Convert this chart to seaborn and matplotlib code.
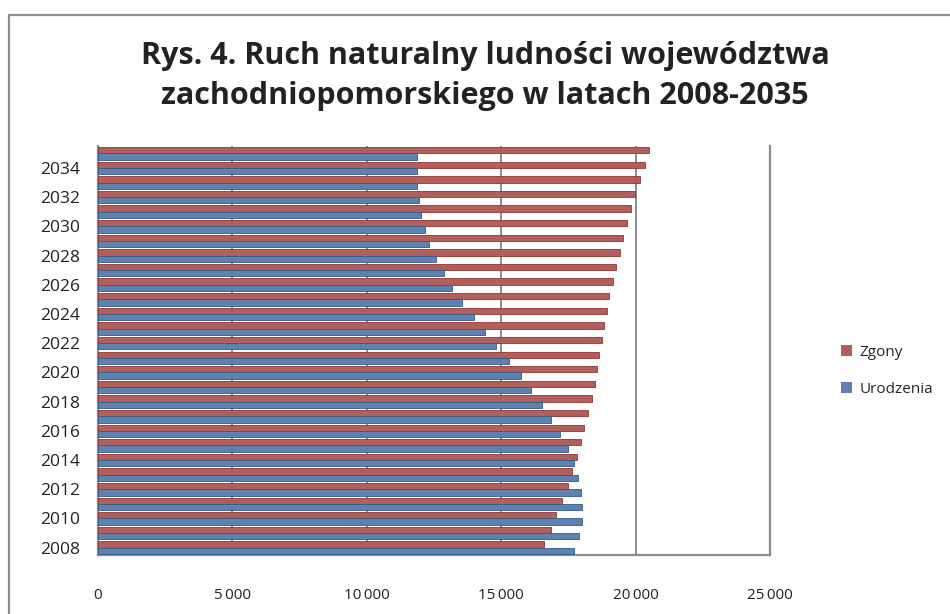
import pandas as pd
import seaborn as sns
import matplotlib.pyplot as plt
import matplotlib.patches as mpatches
from matplotlib.ticker import FuncFormatter

# Data (years 2008-2035)
years = list(range(2008, 2036))
urodzenia = [17720, 17900, 17990, 18020, 17980, 17870, 17690, 17480, 17180, 16870,
             16520, 16120, 15740, 15300, 14820, 14400, 13980, 13550, 13180, 12870,
             12570, 12320, 12150, 12010, 11930, 11880, 11850, 11880]
zgony = [16590, 16840, 17050, 17270, 17470, 17640, 17810, 17970, 18090, 18220,
         18370, 18480, 18580, 18650, 18750, 18840, 18940, 19020, 19150, 19260,
         19410, 19540, 19680, 19840, 19980, 20180, 20340, 20480]
series = ["Zgony", "Urodzenia"]
colors = ["#C0504D", "#4F81BD"]
xticks = [0, 5000, 10000, 15000, 20000, 25000]

df = pd.DataFrame({"rok": years * 2,
                   "seria": ["Urodzenia"] * len(years) + ["Zgony"] * len(years),
                   "liczba": urodzenia + zgony})
df["rok"] = df["rok"].astype(str)
order = [str(y) for y in sorted(years, reverse=True)]

sns.set_style("white")
plt.rcParams["font.family"] = ["Open Sans", "DejaVu Sans"]

fig = plt.figure(figsize=(9.5, 6.14), dpi=100)
ax = fig.add_axes([98 / 950, 1 - 555 / 614, (770 - 98) / 950, (555 - 146) / 614])

sns.barplot(data=df, y="rok", x="liczba", hue="seria", order=order,
            hue_order=series, palette=colors, orient="h", width=0.86,
            ax=ax, legend=True, edgecolor="none", zorder=3)

# darker edge on the bars, a bit like the 3D look
for cont, c in zip(ax.containers, ["#943634", "#2F5D8A"]):
    for bar in cont:
        bar.set_edgecolor(c)
        bar.set_linewidth(0.6)

ax.set_xlim(0, 25000)
ax.set_xticks(xticks)
ax.xaxis.set_major_formatter(FuncFormatter(lambda v, p: f"{int(v):,}".replace(",", "\u2009") if v else "0"))
ax.set_yticks(range(len(order)))
ax.set_yticklabels([y if int(y) % 2 == 0 else "" for y in order])
ax.set_xlabel("")
ax.set_ylabel("")
ax.tick_params(axis="x", length=0, pad=24, labelsize=11, colors="#222222")
ax.tick_params(axis="y", length=0, pad=13, labelsize=12.5, colors="#222222")

ax.grid(axis="x", color="#8C8C8C", linewidth=1.4, zorder=0)
ax.grid(axis="y", visible=False)
for side in ["left", "bottom", "right"]:
    ax.spines[side].set_color("#8C8C8C")
    ax.spines[side].set_linewidth(1.6)
ax.spines["top"].set_visible(False)

handles, labels = ax.get_legend_handles_labels()
ax.legend(handles, labels, loc="center left", bbox_to_anchor=(1.085, 0.45),
          frameon=False, fontsize=11, handlelength=0.7, handleheight=0.7,
          labelspacing=1.45, handletextpad=0.5)

fig.suptitle("Rys. 4. Ruch naturalny ludności województwa\nzachodniopomorskiego w latach 2008-2035",
             x=485 / 950, y=1 - 41 / 614, va="top", fontsize=22, fontweight="bold",
             color="#222222", linespacing=1.45)

# outer chart border (runs past the right and bottom edges)
fig.patches.append(mpatches.Rectangle((9 / 950, -0.1), 2, 1 - 15 / 614 + 0.1,
                                      transform=fig.transFigure, fill=False,
                                      edgecolor="#8C8C8C", linewidth=1.6))

fig.savefig("out.png", dpi=100)
